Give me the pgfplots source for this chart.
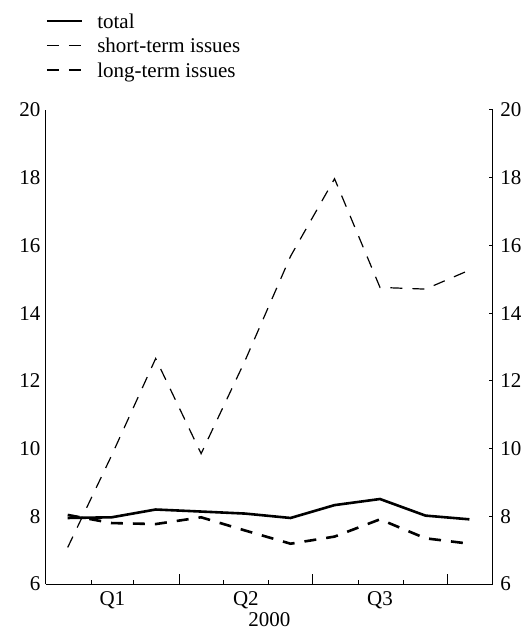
\documentclass[border=0pt]{standalone}
\usepackage{fontspec}
\setmainfont{Liberation Serif}
\usepackage{pgfplots}
\pgfplotsset{compat=1.18}
\begin{document}
\fontsize{10.5}{12.6}\selectfont
\begin{tikzpicture}
\path[use as bounding box] (0,0) rectangle (265.5pt,314pt);
\begin{axis}[
  at={(22.85pt,22pt)}, anchor=south west,
  scale only axis, width=223.6pt, height=237pt,
  xmin=0, xmax=305, ymin=6, ymax=20,
  axis x line*=bottom, axis y line*=left,
  axis line style={-, line width=0.5pt},
  tick align=inside,
  major tick length=5pt, minor tick length=2.2pt,
  ytick={6,8,...,20}, minor ytick={6,8,...,20},
  ytick style={draw=none},
  minor tick style={line width=0.5pt, black},
  major tick style={line width=0.5pt, black},
  xtick={91,182,274}, xticklabels={},
  minor xtick={31,60,121,152,213,244},
  extra x ticks={45.5,136.5,228},
  extra x tick labels={Q1,Q2,Q3},
  extra x tick style={major tick length=0pt, tick style={draw=none}},
  /pgf/number format/assume math mode=true,
  ticklabel style={font=\fontsize{10.5}{12.6}\selectfont},
  yticklabel style={xshift=1pt},
  xlabel={2000},
  xlabel style={font=\fontsize{10.5}{12.6}\selectfont, inner sep=0pt, yshift=2pt},
  legend style={draw=none, fill=none, inner sep=0pt, outer sep=0pt,
    at={(0,1.2036)}, anchor=north west,
    font=\fontsize{10.5}{12.6}\selectfont,
    nodes={inner sep=0pt, text height=7.5pt, text depth=4.75pt},
    row sep=0pt, column sep=7pt},
  legend cell align=left,
  legend image code/.code={\draw[#1] (0pt,2.3pt) -- (17.5pt,2.3pt);},
]
\addplot[black, line width=1.3pt] coordinates {
(15,7.95) (45,7.97) (75,8.20) (106,8.14) (136,8.08) (167,7.95) (197,8.33) (228,8.51) (259,8.02) (289,7.91)};
\addlegendentry{total}
\addplot[black, line width=0.6pt, dash pattern=on 6pt off 5pt] coordinates {
(15,7.08) (45,9.8) (75,12.66) (106,9.85) (136,12.6) (167,15.68) (197,17.97) (228,14.76) (259,14.71) (289,15.27)};
\addlegendentry{short-term issues}
\addplot[black, line width=1.3pt, dash pattern=on 6pt off 5pt] coordinates {
(15,8.04) (45,7.80) (75,7.77) (106,7.97) (136,7.58) (167,7.19) (197,7.40) (228,7.91) (259,7.35) (289,7.19)};
\addlegendentry{long-term issues}
\end{axis}
\begin{axis}[
  at={(22.85pt,22pt)}, anchor=south west,
  scale only axis, width=223.6pt, height=237pt,
  xmin=0, xmax=305, ymin=6, ymax=20,
  axis x line=none, axis y line*=right,
  axis line style={-, line width=0.5pt},
  tick align=inside,
  major tick length=2.2pt,
  major tick style={line width=0.5pt, black},
  ytick={6,8,...,20},
  /pgf/number format/assume math mode=true,
  ticklabel style={font=\fontsize{10.5}{12.6}\selectfont},
]
\end{axis}
\end{tikzpicture}
\end{document}
